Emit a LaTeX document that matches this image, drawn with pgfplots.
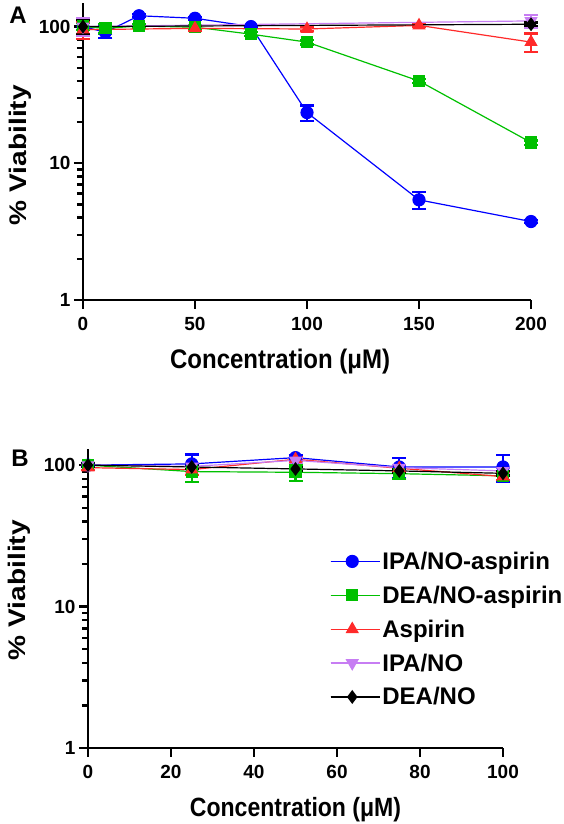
\documentclass[border=0pt]{standalone}
\usepackage{fontspec}
\setmainfont{Liberation Sans}
\usepackage{graphicx}
\usepackage{pgfplots}
\pgfplotsset{compat=1.18}
\definecolor{cblue}{HTML}{0000FF}
\definecolor{cgreen}{HTML}{00C000}
\definecolor{cred}{HTML}{FF2A2A}
\definecolor{cviolet}{HTML}{C77DF3}
\definecolor{cblack}{HTML}{000000}
\pgfplotsset{
  legend image code/.code={\draw[mark repeat=2,mark phase=2,#1] plot coordinates {(0pt,0pt) (21.5pt,0pt) (43pt,0pt)};\path (0pt,0pt) -- (49pt,0pt);},
  error bars/error bar style={line width=2.2pt, solid},
  error bars/error mark=-,
  error bars/error mark options={rotate=90, line width=2.2pt, mark size=7pt, solid},
}
\begin{document}
\begin{tikzpicture}
\path[use as bounding box] (0,0) rectangle (563pt,-824pt);
% Panel A
\begin{axis}[
  scale only axis, ymode=log, clip=false,
  axis x line*=bottom, axis y line*=left,
  axis line style={line width=2.4pt, black},
  tick align=outside,
  major tick length=9pt, minor tick length=6pt,
  major tick style={line width=2.4pt, black},
  minor tick style={line width=2.4pt, black},
  ytick={1,10,100}, yticklabels={1,10,100},
  minor ytick={2,3,4,5,6,7,8,9,20,30,40,50,60,70,80,90},
  tick label style={font=\fontsize{19}{20}\selectfont\bfseries},
  xticklabel style={yshift=-5pt},
  label style={font=\fontsize{24}{26}\selectfont\bfseries},
  at={(83pt,-300pt)}, anchor=south west,
  width=448pt, height=297.5pt,
  xmin=0, xmax=200, ymin=1, ymax=150,
  xtick={0,50,100,150,200}, xticklabels={0,50,100,150,200},
  xlabel={\scalebox{1}[1.12]{Concentration (μM)}}, ylabel={\scalebox{1.17}[1]{\% Viability}},
  xlabel style={at={(axis description cs:0.44,-0.208)}, anchor=center},
  ylabel style={at={(axis description cs:-0.141,0.487)}, anchor=center},
]
\addplot[color=cblue, line width=1.2pt, mark=*, mark size=6pt, mark options={solid, fill=cblue, draw=cblue}, error bars/y dir=both, error bars/y explicit] coordinates {(0,100) +- (0,15) (10,91) +- (0,9) (25,120) +- (0,3) (50,115) +- (0,3) (75,100) +- (0,2) (100,23.5) +- (0,3) (150,5.4) +- (0,0.75) (200,3.75) +- (0,0.1)};
\addplot[color=cgreen, line width=1.2pt, mark=square*, mark size=5.5pt, mark options={solid, fill=cgreen, draw=cgreen}, error bars/y dir=both, error bars/y explicit] coordinates {(0,100) +- (0,6) (10,97) +- (0,8) (25,101) +- (0,3) (50,99) +- (0,3) (75,88) +- (0,3) (100,77) +- (0,3) (150,40) +- (0,1.5) (200,14.2) +- (0,0.5)};
\addplot[color=cred, line width=1.2pt, mark=triangle*, mark size=6.5pt, mark options={solid, fill=cred, draw=cred}, error bars/y dir=both, error bars/y explicit] coordinates {(0,95) +- (0,14) (50,97) +- (0,4) (100,96) +- (0,3) (150,102) +- (0,3) (200,77) +- (0,12)};
\addplot[color=cviolet, line width=1.2pt, mark=triangle*, mark size=6.5pt, mark options={solid, rotate=180, fill=cviolet, draw=cviolet}, error bars/y dir=both, error bars/y explicit] coordinates {(0,100) +- (0,15) (200,110) +- (0,12)};
\addplot[color=cblack, line width=1.2pt, mark=diamond*, mark size=6pt, mark options={solid, fill=cblack, draw=cblack}, error bars/y dir=both, error bars/y explicit] coordinates {(0,100) +- (0,12) (200,104) +- (0,3)};
\node[font=\fontsize{24}{26}\selectfont\bfseries] at (axis description cs:-0.145,0.958) {A};
\end{axis}
% Panel B
\begin{axis}[
  scale only axis, ymode=log, clip=false,
  axis x line*=bottom, axis y line*=left,
  axis line style={line width=2.4pt, black},
  tick align=outside,
  major tick length=9pt, minor tick length=6pt,
  major tick style={line width=2.4pt, black},
  minor tick style={line width=2.4pt, black},
  ytick={1,10,100}, yticklabels={1,10,100},
  minor ytick={2,3,4,5,6,7,8,9,20,30,40,50,60,70,80,90},
  tick label style={font=\fontsize{19}{20}\selectfont\bfseries},
  xticklabel style={yshift=-5pt},
  label style={font=\fontsize{24}{26}\selectfont\bfseries},
  at={(88pt,-748pt)}, anchor=south west,
  width=415pt, height=299pt,
  xmin=0, xmax=100, ymin=1, ymax=130,
  xtick={0,20,40,60,80,100}, xticklabels={0,20,40,60,80,100},
  xlabel={\scalebox{0.96}[1.1]{Concentration (μM)}}, ylabel={\scalebox{1.17}[1]{\% Viability}},
  xlabel style={at={(axis description cs:0.5,-0.207)}, anchor=center},
  ylabel style={at={(axis description cs:-0.166,0.528)}, anchor=center},
  legend style={at={(rel axis cs:0.583,0.663)}, anchor=north west, draw=none, fill=none,
    font=\fontsize{24}{26}\selectfont\bfseries, row sep=11pt, inner sep=0pt},
  legend cell align=left,
]
\addplot[color=cblue, line width=1.2pt, mark=*, mark size=6pt, mark options={solid, fill=cblue, draw=cblue}, error bars/y dir=both, error bars/y explicit] coordinates {(0,100) +- (0,3) (25,102) +- (0,17) (50,113) +- (0,4) (75,97) +- (0,16) (100,97) +- (0,21)};
\addplot[color=cgreen, line width=1.2pt, mark=square*, mark size=5.5pt, mark options={solid, fill=cgreen, draw=cgreen}, error bars/y dir=both, error bars/y explicit] coordinates {(0,100) +- (0,3) (25,90) +- (0,14) (50,89) +- (0,12) (75,87) +- (0,7) (100,84) +- (0,5)};
\addplot[color=cred, line width=1.2pt, mark=triangle*, mark size=6.5pt, mark options={solid, fill=cred, draw=cred}, error bars/y dir=both, error bars/y explicit] coordinates {(0,96) +- (0,4) (25,93) +- (0,8) (50,110) +- (0,4) (75,95) +- (0,4) (100,83) +- (0,5)};
\addplot[color=cviolet, line width=1.2pt, mark=triangle*, mark size=6.5pt, mark options={solid, rotate=180, fill=cviolet, draw=cviolet}, error bars/y dir=both, error bars/y explicit] coordinates {(0,100) +- (0,3) (25,98) +- (0,5) (50,108) +- (0,4) (75,96) +- (0,4) (100,91) +- (0,4)};
\addplot[color=cblack, line width=1.2pt, mark=diamond*, mark size=6pt, mark options={solid, fill=cblack, draw=cblack}, error bars/y dir=both, error bars/y explicit] coordinates {(0,100) +- (0,3) (25,97) +- (0,3) (50,94) +- (0,3) (75,91) +- (0,3) (100,87.5) +- (0,3)};
\legend{IPA/NO-aspirin, DEA/NO-aspirin, Aspirin, IPA/NO, DEA/NO}
\node[font=\fontsize{24}{26}\selectfont\bfseries] at (axis description cs:-0.164,0.97) {B};
\end{axis}
\end{tikzpicture}
\end{document}
